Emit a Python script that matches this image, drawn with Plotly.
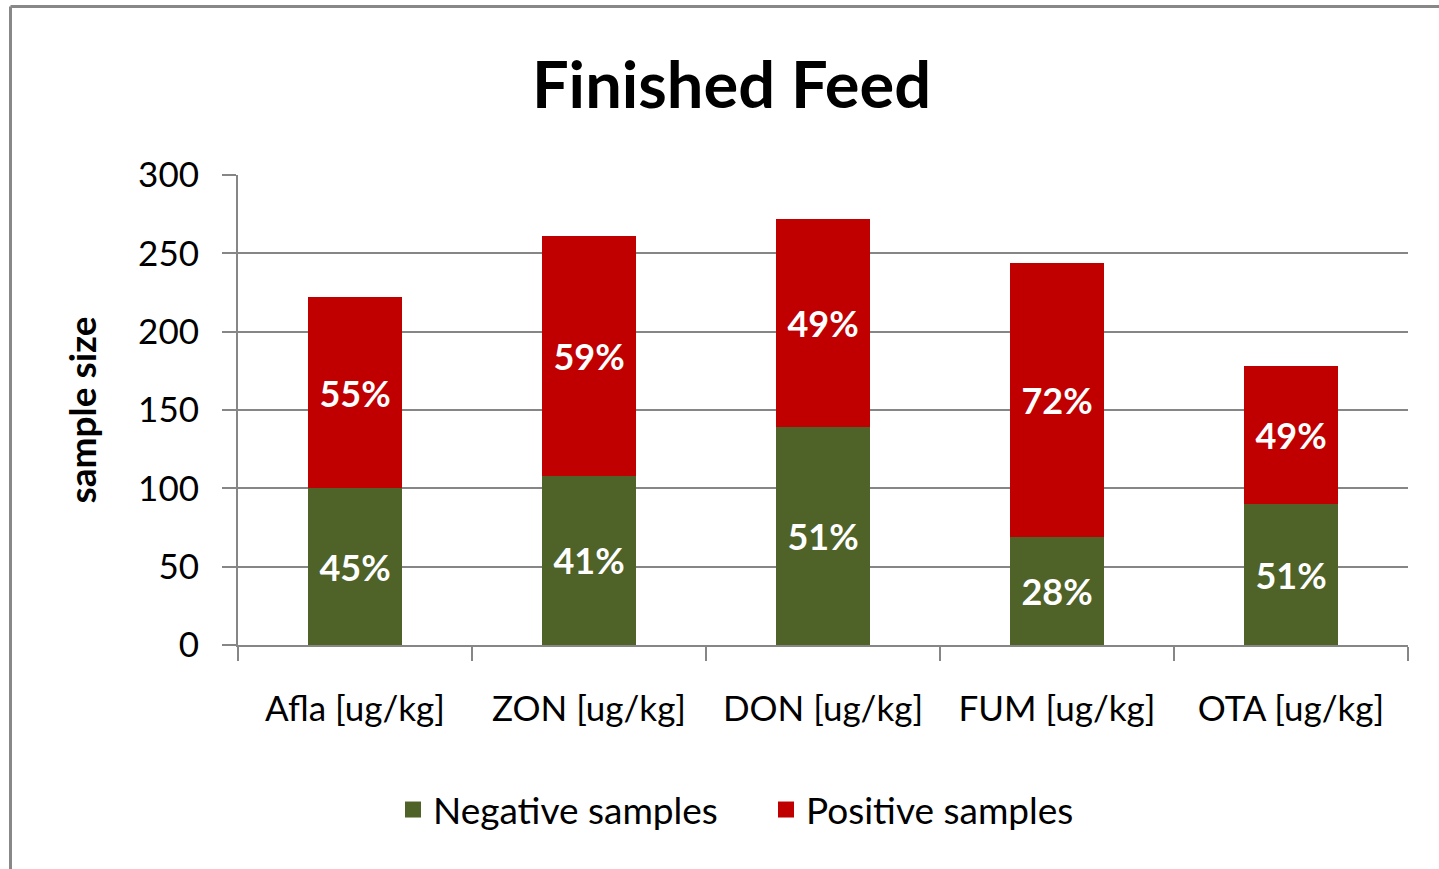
import plotly.graph_objects as go

categories = ["Afla [ug/kg]", "ZON [ug/kg]", "DON [ug/kg]", "FUM [ug/kg]", "OTA [ug/kg]"]
negative = [100, 108, 139, 69, 90]
positive = [122, 153, 133, 175, 88]
neg_labels = ["45%", "41%", "51%", "28%", "51%"]
pos_labels = ["55%", "59%", "49%", "72%", "49%"]

GREEN = "#4F6228"
RED = "#C00000"
FONT = "Lato"

W, H = 1439, 869
L, R, T, B = 238, 31, 175, 224
PW = W - L - R
PH = H - T - B

fig = go.Figure()
fig.add_trace(go.Bar(x=categories, y=negative, name="Negative samples", marker_color=GREEN,
                     marker_line_width=0,
                     text=neg_labels, textposition="inside", insidetextanchor="middle",
                     textfont=dict(color="white", size=36, family=FONT, weight="bold"),
                     showlegend=False, hoverinfo="skip"))
fig.add_trace(go.Bar(x=categories, y=positive, name="Positive samples", marker_color=RED,
                     marker_line_width=0,
                     text=pos_labels, textposition="inside", insidetextanchor="middle",
                     textfont=dict(color="white", size=36, family=FONT, weight="bold"),
                     showlegend=False, hoverinfo="skip"))
# legend entries
fig.add_trace(go.Scatter(x=[None], y=[None], mode="markers", name="Negative samples",
                         marker=dict(symbol="square", size=23, color=GREEN)))
fig.add_trace(go.Scatter(x=[None], y=[None], mode="markers", name="Positive samples",
                         marker=dict(symbol="square", size=23, color=RED)))

bx = (10.5 - L) / PW
by = 1 + (T - 6.5) / PH

fig.update_layout(
    width=W, height=H,
    barmode="stack", bargap=0.6,
    paper_bgcolor="white", plot_bgcolor="white",
    margin=dict(l=L, r=R, t=T, b=B),
    font=dict(family=FONT, color="black", size=35),
    title=dict(text="<b>Finished Feed</b>", x=731.5 / W, xanchor="center",
               y=1 - 85 / H, yanchor="middle",
               font=dict(size=65, family=FONT, color="black")),
    legend=dict(orientation="h", x=(393 - L) / PW, xanchor="left", y=-0.351, yanchor="middle",
                font=dict(size=37, family=FONT), itemwidth=30, tracegroupgap=0,
                traceorder="normal", entrywidthmode="pixels", entrywidth=328),
    showlegend=True,
)
fig.update_xaxes(type="category", showline=True, linecolor="#868686", linewidth=2,
                 ticks="outside", tickson="boundaries", ticklen=14, tickcolor="#868686", tickwidth=2,
                 ticklabelstandoff=32, tickfont=dict(size=35), showgrid=False)
fig.update_yaxes(range=[0, 300], dtick=50, showline=True, linecolor="#868686", linewidth=2,
                 ticks="outside", ticklen=14, tickcolor="#868686", tickwidth=2,
                 showgrid=True, gridcolor="#868686", gridwidth=1.5, zeroline=False,
                 ticklabelstandoff=16, tickfont=dict(size=35),
                 title=dict(text="<b>sample size</b>", font=dict(size=37), standoff=30))

# outer chart border (top and left edges visible)
fig.add_shape(type="line", xref="paper", yref="paper", x0=bx, x1=bx, y0=-0.6, y1=by,
              line=dict(color="#888888", width=3))
fig.add_shape(type="line", xref="paper", yref="paper", x0=bx, x1=1.1, y0=by, y1=by,
              line=dict(color="#888888", width=3))

fig.write_html("out.html", config={"displayModeBar": False},
               post_script="document.body.style.margin='0';")
